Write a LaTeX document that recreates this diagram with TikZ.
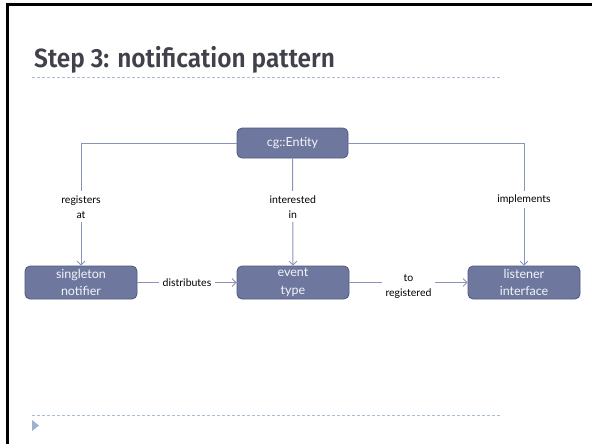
\documentclass[tikz,border=0pt]{standalone}
\usepackage{fontspec}
\setmainfont{Lato}
\newfontfamily\titlefont{Fira Sans SemiBold}
\usetikzlibrary{arrows.meta}
\definecolor{boxfill}{HTML}{6E789F}
\definecolor{boxdraw}{HTML}{4E5882}
\definecolor{linkcol}{HTML}{8A93B8}
\definecolor{rulecol}{HTML}{A8BCD2}
\definecolor{titlecol}{HTML}{41414C}
\definecolor{bulletcol}{HTML}{9AB2CE}
\tikzset{
  entitybox/.style={draw=boxdraw, fill=boxfill, line width=0.8pt, rounded corners=5pt,
    text=white!92!boxfill, font=\fontsize{12.5}{17.5}\selectfont, align=center,
    minimum height=#1, inner sep=0pt},
  entitybox/.default=33pt,
  link/.style={draw=linkcol, line width=1pt},
  linkarrow/.style={link, -{Straight Barb[length=4pt,width=8pt,line width=0.8pt]}},
  linklabel/.style={fill=white, text=black, font=\fontsize{10.5}{15}\selectfont, align=center, inner sep=4pt},
  dashrule/.style={draw=rulecol, line width=0.8pt, dash pattern=on 3pt off 2pt},
}
\begin{document}
\begin{tikzpicture}[x=1pt,y=-1pt]
\useasboundingbox (0,0) rectangle (592,444);
\fill[white] (0,0) rectangle (592,444);
% frame edges
\fill[black] (6,3) rectangle (592,6);
\fill[black] (6,3) rectangle (9,444);
% title and rules
\node[anchor=base west, inner sep=0pt, text=titlecol, font=\titlefont\fontsize{23.5}{28}\selectfont, xscale=1.04, yscale=1.12] (title) at (34,68) {Step 3: notification pattern};
\draw[dashrule] (32,77) -- (502,77);
\draw[dashrule] (32,415) -- (502,415);
\fill[bulletcol] (32,420) -- (39,425.5) -- (32,431) -- cycle;
% nodes
\node[entitybox=30pt, minimum width=111pt] (entity) at (292.5,143) {cg::Entity};
\node[entitybox, minimum width=112pt] (notifier) at (81,282.5) {singleton\\notifier};
\node[entitybox, minimum width=112pt] (event) at (293,282.5) {event\\type};
\node[entitybox, minimum width=112pt] (listener) at (524,282.5) {listener\\interface};
% connectors
\draw[linkarrow] (entity.west) -| node[linklabel, pos=0.76] (lregisters) {registers\\at} (notifier.north);
\draw[linkarrow] (entity.south) -- node[linklabel, pos=0.45] (linterested) {interested\\in} (event.north);
\draw[linkarrow] (entity.east) -| node[linklabel, pos=0.73] (limplements) {implements} (listener.north);
\draw[linkarrow] (notifier.east) -- node[linklabel] (ldistributes) {distributes} (event.west);
\draw[linkarrow] (event.east) -- node[linklabel, yshift=-4pt] (lregistered) {to\\registered} (listener.west);
\end{tikzpicture}
\end{document}
